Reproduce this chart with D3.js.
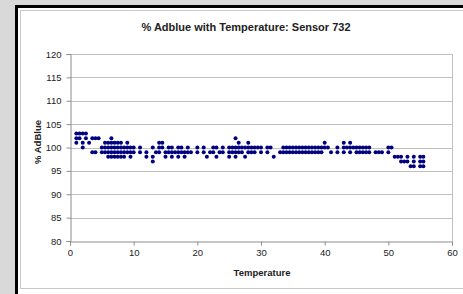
<!DOCTYPE html>
<html>
<head>
<meta charset="utf-8">
<script src="https://cdn.jsdelivr.net/npm/d3@7"></script>
<style>
  html, body { margin: 0; padding: 0; background: #d9d9d9; }
  svg { display: block; }
  text { font-family: "Liberation Sans", Arial, sans-serif; fill: #222; }
</style>
</head>
<body>
<div class="graph"></div>
<script>

// chart data

var title = "% Adblue with Temperature: Sensor 732";
var xTitle = "Temperature";
var yTitle = "% AdBlue";

var xTicks = [0, 10, 20, 30, 40, 50, 60];
var yTicks = [80, 85, 90, 95, 100, 105, 110, 115, 120];

var temperature = [
	1, 1, 1, 1.5, 1.5, 2, 2, 2, 2.5, 2.5, 3, 3.5, 3.5, 4, 4, 4.5,
	5, 5, 5.5, 5.5, 5.5, 6, 6, 6, 6, 6.5, 6.5, 6.5, 6.5, 6.5,
	7, 7, 7, 7, 7.5, 7.5, 7.5, 7.5, 8, 8, 8, 8, 8.5, 8.5, 8.5,
	9, 9, 9, 9.5, 9.5, 9.5, 10, 10, 11, 11, 12, 12,
	13, 13, 13, 13.5, 14, 14, 14, 14.5, 14.5, 15, 15, 15.5, 15.5,
	16, 16, 16, 16.5, 17, 17, 17, 17.5, 17.5, 18, 18, 18.5, 18.5, 19,
	20, 20, 21, 21, 21.5, 22, 22.5, 22.5, 23, 23, 23.5, 24, 24,
	25, 25, 25, 25.5, 25.5, 26, 26, 26, 26, 26.5, 26.5, 26.5, 27, 27,
	27.5, 27.5, 28, 28, 28, 28.5, 28.5, 29, 29, 29.5, 30, 30, 31, 31, 31.5,
	32, 33, 33.5, 33.5, 34, 34, 34.5, 34.5, 35, 35, 35.5, 35.5, 36, 36,
	36.5, 36.5, 37, 37, 37.5, 37.5, 38, 38, 38.5, 38.5, 39, 39, 39.5, 39.5,
	40, 40, 40.5, 41, 42, 42, 43, 43, 43, 43.5, 44, 44, 44, 44.5,
	45, 45, 45.5, 45.5, 46, 46, 46.5, 46.5, 47, 47, 48, 48.5, 49,
	50, 50, 50.5, 51, 51.5, 52, 52, 52.5, 53, 53, 53.5,
	54, 54, 54, 55, 55, 55, 55.5, 55.5, 55.5
];

var adblue = [
	101, 102, 103, 102, 103, 100, 101, 103, 102, 103, 101, 102, 99, 102, 99, 102,
	99, 100, 99, 100, 101, 98, 99, 100, 101, 98, 99, 100, 101, 102,
	98, 99, 100, 101, 98, 99, 100, 101, 98, 99, 100, 101, 98, 99, 100,
	99, 100, 101, 98, 99, 100, 99, 100, 99, 100, 99, 98,
	97, 98, 100, 99, 99, 100, 101, 100, 101, 98, 99, 99, 100,
	98, 99, 100, 99, 98, 99, 100, 99, 100, 98, 99, 99, 100, 99,
	99, 100, 99, 100, 98, 99, 99, 100, 98, 100, 99, 99, 100,
	98, 99, 100, 99, 100, 98, 99, 100, 102, 99, 100, 101, 99, 100,
	98, 100, 99, 100, 101, 99, 100, 99, 100, 100, 99, 100, 99, 100, 100,
	98, 99, 99, 100, 99, 100, 99, 100, 99, 100, 99, 100, 99, 100,
	99, 100, 99, 100, 99, 100, 99, 100, 99, 100, 99, 100, 99, 100,
	100, 101, 100, 99, 99, 100, 99, 100, 101, 100, 99, 100, 101, 100,
	99, 100, 99, 100, 99, 100, 99, 100, 99, 100, 99, 99, 99,
	99, 100, 100, 98, 98, 97, 98, 97, 97, 98, 96,
	96, 97, 98, 96, 97, 98, 96, 97, 98
];

// layout

var svgWidth = 463;
var svgHeight = 294;

var plotLeft = 70;
var plotRight = 452;
var plotTop = 54;
var plotBottom = 241;

var svg = d3.select("div.graph")
		.append("svg")
		.attr("width", svgWidth)
		.attr("height", svgHeight);

// frame: black outer border and white chart area
svg.append("rect")
	.attr("x", 15).attr("y", 5)
	.attr("width", svgWidth).attr("height", svgHeight)
	.attr("fill", "#000");

svg.append("rect")
	.attr("x", 18).attr("y", 8)
	.attr("width", svgWidth).attr("height", svgHeight)
	.attr("fill", "#fff");

svg.append("rect")
	.attr("x", 20.5).attr("y", 10.5)
	.attr("width", svgWidth).attr("height", 278)
	.attr("fill", "none")
	.attr("stroke", "#c8c8c8");

var x = d3.scaleLinear()
	.domain([0, 60])
	.range([plotLeft, plotRight]);

var y = d3.scaleLinear()
	.domain([80, 120])
	.range([plotBottom, plotTop]);

// gridlines
svg.append("g")
	.selectAll("line")
	.data(yTicks.slice(1))
	.enter()
	.append("line")
	.attr("x1", plotLeft).attr("x2", plotRight)
	.attr("y1", function(d) {return Math.round(y(d)) + 0.5})
	.attr("y2", function(d) {return Math.round(y(d)) + 0.5})
	.attr("stroke", "#c0c0c0");

// right border of plot area
svg.append("line")
	.attr("x1", plotRight + 0.5).attr("x2", plotRight + 0.5)
	.attr("y1", plotTop).attr("y2", plotBottom)
	.attr("stroke", "#c0c0c0");

var xAxis = d3.axisBottom(x)
	.tickValues(xTicks)
	.tickSize(4)
	.tickPadding(4);

var yAxis = d3.axisLeft(y)
	.tickValues(yTicks)
	.tickSize(4)
	.tickPadding(5);

var gAxisX = svg.append("g")
	.attr("transform", "translate(0," + (plotBottom + 0.5) + ")")
	.call(xAxis);

var gAxisY = svg.append("g")
	.attr("transform", "translate(" + (plotLeft + 0.5) + ",0)")
	.call(yAxis);

[gAxisX, gAxisY].forEach(function(g) {
	g.selectAll("path, line").attr("stroke", "#8c8c8c");
	g.selectAll("text")
		.attr("fill", "#333")
		.style("font-size", "9.5px")
		.style("font-family", "'Liberation Sans', Arial, sans-serif");
});

// points
svg.append("g")
	.selectAll("circle")
	.data(temperature)
	.enter()
	.append("circle")
	.attr("cx", function(d) {return x(d)})
	.attr("cy", function(d, n) {return y(adblue[n])})
	.attr("r", 2)
	.attr("fill", "#000080");

// titles
svg.append("text")
	.attr("x", 246).attr("y", 31)
	.attr("text-anchor", "middle")
	.style("font-size", "11px")
	.style("font-weight", "bold")
	.text(title);

svg.append("text")
	.attr("x", 262).attr("y", 276)
	.attr("text-anchor", "middle")
	.style("font-size", "9.5px")
	.style("font-weight", "bold")
	.text(xTitle);

svg.append("text")
	.attr("transform", "translate(41,142) rotate(-90)")
	.attr("text-anchor", "middle")
	.style("font-size", "9.5px")
	.style("font-weight", "bold")
	.text(yTitle);

</script>
</body>
</html>
